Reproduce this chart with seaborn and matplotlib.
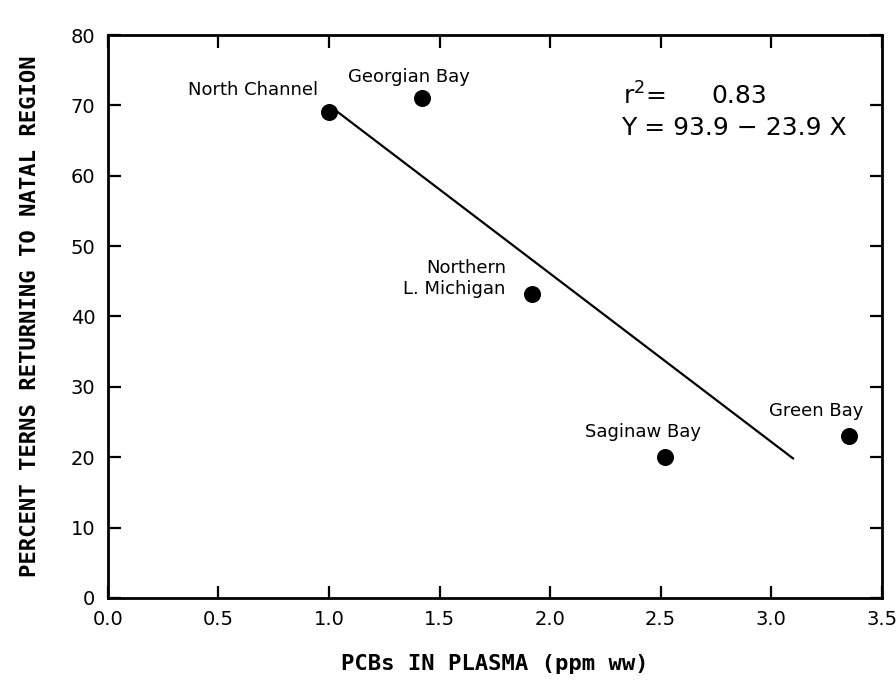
import matplotlib
matplotlib.use("Agg")
import matplotlib.pyplot as plt
import seaborn as sns
import numpy as np
import pandas as pd

# ---- data ----
sites = ["North Channel", "Georgian Bay", "Northern\nL. Michigan", "Saginaw Bay", "Green Bay"]
pcb = [1.00, 1.42, 1.92, 2.52, 3.35]
pct_return = [69.0, 71.0, 43.2, 20.0, 23.0]
intercept = 93.9
slope = -23.9
line_x = [1.0, 3.1]
r2 = 0.83
x_ticks = [0.0, 0.5, 1.0, 1.5, 2.0, 2.5, 3.0, 3.5]
y_ticks = [0, 10, 20, 30, 40, 50, 60, 70, 80]

df = pd.DataFrame({"site": sites, "pcb": pcb, "pct": pct_return})
line_df = pd.DataFrame({"x": line_x, "y": [intercept + slope * v for v in line_x]})

sns.set_theme(style="white")
plt.rcParams["font.family"] = ["DejaVu Sans"]
plt.rcParams["text.color"] = "black"
plt.rcParams["axes.labelcolor"] = "black"

fig = plt.figure(figsize=(8.96, 6.81), dpi=100)
ax = fig.add_axes([0.1205, 0.1219, 0.8635, 0.8267])

sns.lineplot(data=line_df, x="x", y="y", ax=ax, color="black", linewidth=1.6)
sns.scatterplot(data=df, x="pcb", y="pct", ax=ax, color="black", s=150,
                edgecolor="black", linewidth=0, zorder=3)

ax.set_xlim(0, 3.5)
ax.set_ylim(0, 80)
ax.set_xticks(x_ticks)
ax.set_xticklabels([f"{v:.1f}" for v in x_ticks])
ax.set_yticks(y_ticks)
ax.set_yticklabels([str(v) for v in y_ticks])
ax.tick_params(direction="in", length=9, width=1.6, labelsize=14, colors="black",
               top=True, right=True, bottom=True, left=True, pad=9)
for s in ax.spines.values():
    s.set_visible(True)
    s.set_color("black")
    s.set_linewidth(2.0)

mono = {"family": "DejaVu Sans Mono", "weight": "bold", "size": 16, "color": "black"}
ax.set_xlabel("PCBs IN PLASMA (ppm ww)", fontdict=mono, labelpad=18)
ax.set_ylabel("PERCENT TERNS RETURNING TO NATAL REGION", fontdict=mono, labelpad=22)

lab = dict(fontsize=13, color="black")
ax.text(0.95, 72.2, sites[0], ha="right", va="center", **lab)
ax.text(1.36, 74.0, sites[1], ha="center", va="center", **lab)
ax.text(1.80, 45.4, sites[2], ha="right", va="center", multialignment="right",
        linespacing=1.25, **lab)
ax.text(2.42, 23.6, sites[3], ha="center", va="center", **lab)
ax.text(3.205, 26.6, sites[4], ha="center", va="center", **lab)

ax.text(2.33, 71.3, r"r$^{2}$=", ha="left", va="center", fontsize=18, color="black")
ax.text(2.73, 71.3, f"{r2:.2f}", ha="left", va="center", fontsize=18, color="black")
ax.text(2.32, 66.8, f"Y = {intercept:.1f} \u2212 {abs(slope):.1f} X", ha="left",
        va="center", fontsize=18, color="black")

fig.savefig("out.png", dpi=100, facecolor="white")
